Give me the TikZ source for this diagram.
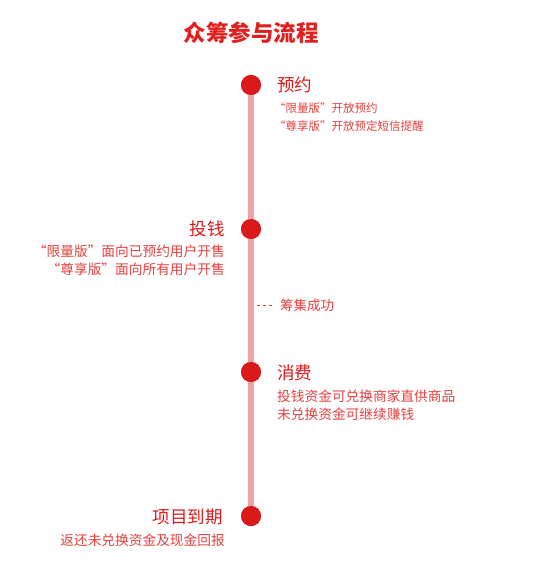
\documentclass[tikz,border=0pt]{standalone}
\usepackage{fontspec}
\setmainfont{Noto Sans CJK SC}
\usetikzlibrary{positioning}
\definecolor{cdot}{HTML}{D91A1A}
\definecolor{ctitle}{HTML}{E0201E}
\definecolor{ctext}{HTML}{E4403E}
\definecolor{cline}{HTML}{F0A2A2}
\tikzset{
  every picture/.style={x=1pt, y=-1pt},
  stage/.style={circle, fill=cdot, minimum size=20pt, inner sep=0pt},
  head/.style={font=\fontsize{17.5}{20}\selectfont, text=cdot, inner sep=0pt},
  sub/.style={font=\fontsize{13.7}{18}\selectfont, text=ctext, inner sep=0pt},
  title/.style={font=\fontsize{22.5}{26}\selectfont\bfseries, text=ctitle, inner sep=0pt},
}

\begin{document}
\begin{tikzpicture}
  \useasboundingbox (0,0) rectangle (555,574);
  \node[title] (ttl) at (251,33) {众筹参与流程};

  % stages on the time line
  \node[stage] (s1) at (251,85)  {};
  \node[stage] (s2) at (251,229) {};
  \node[stage] (s3) at (251,372) {};
  \node[stage] (s4) at (251,516) {};
  \draw[cline, line width=6pt] (s1.center) -- (s4.center);
  \foreach \s in {s1, s2, s3, s4} \node[stage] at (\s) {};

  % texts
  \node[head, anchor=west] (h1) at (277,85) {预约};
  \node[sub, anchor=north west, align=left, font=\fontsize{11.5}{18}\selectfont] (t1) at (274,103)
    {“限量版”开放预约\\“尊享版”开放预定短信提醒};

  \node[head, anchor=east] (h2) at (225,229) {投钱};
  \node[sub, anchor=north east, align=right] (t2) at (225,245)
    {“限量版”面向已预约用户开售\\“尊享版”面向所有用户开售};

  \node[sub, anchor=west, font=\fontsize{13.5}{16}\selectfont] (ok) at (280,305) {筹集成功};
  \coordinate (okl) at (257,305);
  \draw[ctext, dash pattern=on 3pt off 3pt, line width=0.8pt] (okl) -- ([xshift=-7pt]ok.west);

  \node[head, anchor=west] (h3) at (277,373) {消费};
  \node[sub, anchor=north west, align=left] (t3) at (277,390)
    {投钱资金可兑换商家直供商品\\未兑换资金可继续赚钱};

  \node[head, anchor=east] (h4) at (223,517) {项目到期};
  \node[sub, anchor=north east, align=right] (t4) at (225,534)
    {返还未兑换资金及现金回报};
\end{tikzpicture}
\end{document}
